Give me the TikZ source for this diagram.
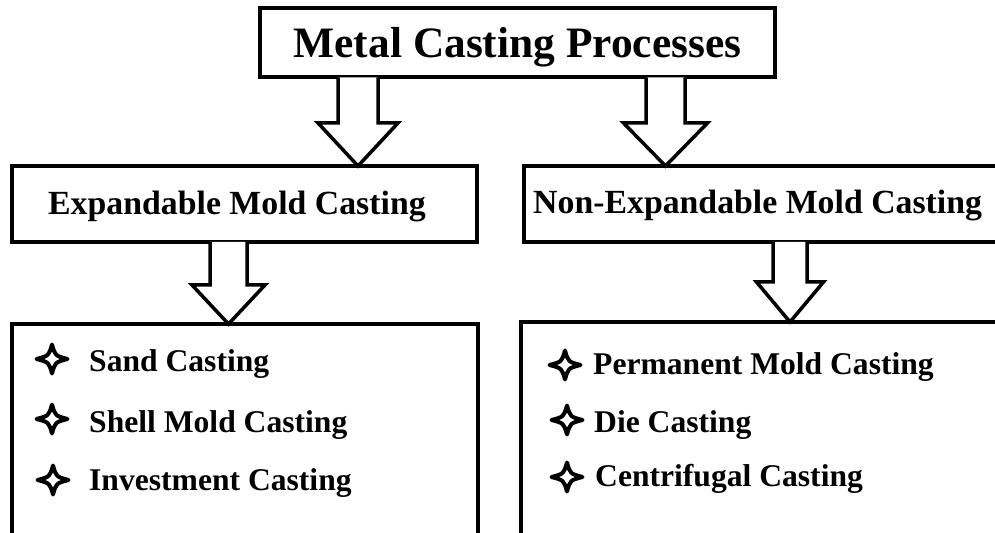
\documentclass[tikz,border=0pt]{standalone}
\usepackage{fontspec}
\setmainfont{Liberation Serif}
\usetikzlibrary{calc}

\tikzset{
  box/.style={draw=black, line width=4bp, fill=white, inner sep=0pt, outer sep=0pt,
              rectangle, minimum width=#1},
  titletext/.style={font=\fontsize{43.4bp}{50bp}\selectfont\bfseries, inner sep=0pt,
                    text height=29bp, text depth=0bp},
  headtext/.style={font=\fontsize{33.8bp}{40bp}\selectfont\bfseries, inner sep=0pt, anchor=base west},
  itemtext/.style={font=\fontsize{31.6bp}{38bp}\selectfont\bfseries, inner sep=0pt, anchor=base west},
  barrow/.style={draw=black, line width=3.5bp, line join=miter, fill=white},
  starmark/.pic={
    \draw[line width=4bp, line join=round, fill=white]
      (0,-14.5) .. controls (3.2,-3.2) .. (15.5,0)
              .. controls (3.2,3.2) .. (0,14.5)
              .. controls (-3.2,3.2) .. (-15.5,0)
              .. controls (-3.2,-3.2) .. cycle;
  }
}

% hollow block arrow hanging from one box to the next:
% #1 source, #2 target, #3 x position, #4 shaft half width, #5 head half width, #6 head length
\newcommand\blockarrow[6]{%
  \draw[barrow]
    ($(#3 |- #1.south)+(-#4,0)$) -- ($(#3 |- #2.north)+(-#4,-#6)$)
    -- ($(#3 |- #2.north)+(-#5,-#6)$) -- (#3 |- #2.north)
    -- ($(#3 |- #2.north)+(#5,-#6)$) -- ($(#3 |- #2.north)+(#4,-#6)$)
    -- ($(#3 |- #1.south)+(#4,0)$);
}

\begin{document}
\begin{tikzpicture}[x=1bp, y=-1bp]
  \clip (0,0) rectangle (995,533);
  \fill[white] (0,0) rectangle (995,533);

  % boxes
  \node[box=515bp, minimum height=69bp, titletext] (top) at (517.5,43) {Metal Casting Processes};
  \node[box=486bp, minimum height=76bp] (nonexp) at (767,204) {};
  \node[box=465bp, minimum height=76bp] (exp) at (244.5,204) {};
  \node[box=466bp, minimum height=260bp] (explist) at (245,454) {};
  \node[box=489bp, minimum height=260bp] (nonlist) at (765.5,452) {};

  % headings
  \node[headtext] (exptitle) at (48,215) {Expandable Mold Casting};
  \node[headtext] (nontitle) at (533,214) {Non-Expandable Mold Casting};

  % arrow positions
  \coordinate (ax1) at (358,0);
  \coordinate (ax2) at (665.5,0);
  \coordinate (ax3) at (228.5,0);
  \coordinate (ax4) at (790,0);

  \blockarrow{top}{exp}{ax1}{20}{40}{43}
  \blockarrow{top}{nonexp}{ax2}{19.5}{42}{43}
  \blockarrow{exp}{explist}{ax3}{18.5}{36.5}{39}
  \blockarrow{nonexp}{nonlist}{ax4}{17}{33.5}{40}

  % expendable mold processes
  \pic at (52,359) {starmark};
  \node[itemtext] (sand) at (89,372) {Sand Casting};
  \pic at (52,419) {starmark};
  \node[itemtext] (shell) at (89,432) {Shell Mold Casting};
  \pic at (53,480) {starmark};
  \node[itemtext] (invest) at (89,490) {Investment Casting};

  % permanent mold processes
  \pic at (565,365) {starmark};
  \node[itemtext] (perm) at (593,375) {Permanent Mold Casting};
  \pic at (567,420) {starmark};
  \node[itemtext] (die) at (594,432) {Die Casting};
  \pic at (567,477) {starmark};
  \node[itemtext] (centri) at (595,486) {Centrifugal Casting};
\end{tikzpicture}
\end{document}
